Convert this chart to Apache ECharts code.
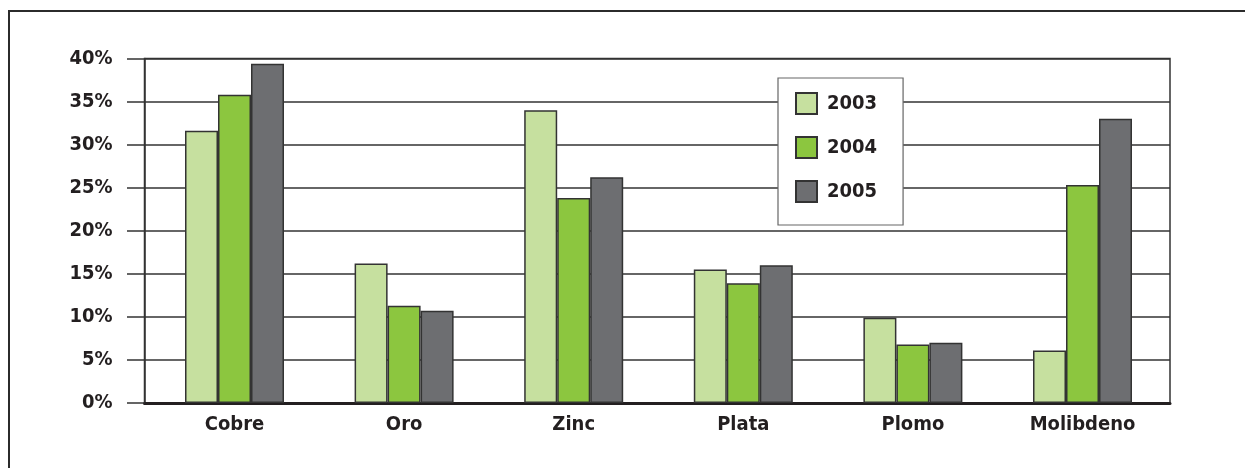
<!DOCTYPE html>
<html><head><meta charset="utf-8">
<script src="https://cdn.jsdelivr.net/npm/echarts@6/dist/echarts.min.js"></script>
<style>
html,body{margin:0;padding:0;background:#fff;}
#wrap{position:relative;width:1245px;height:468px;overflow:hidden;}
#frame{position:absolute;left:8px;top:10px;width:1250px;height:470px;border-top:2.5px solid #2b2b2b;border-left:2.5px solid #2b2b2b;}
#chart{position:absolute;left:0;top:0;width:1245px;height:468px;}
</style></head><body>
<div id="wrap"><div id="frame"></div><div id="chart"></div></div>
<script>
const categories = ['Cobre', 'Oro', 'Zinc', 'Plata', 'Plomo', 'Molibdeno'];
const years = ['2003', '2004', '2005'];
const values2003 = [31.6, 16.2, 34.0, 15.5, 9.9, 6.1];
const values2004 = [35.8, 11.3, 23.8, 13.9, 6.8, 25.3];
const values2005 = [39.4, 10.7, 26.2, 16.0, 7.0, 33.0];
const yTicks = [0, 5, 10, 15, 20, 25, 30, 35, 40];

const colors = ['#c6e09f', '#8cc63f', '#6d6e71'];
const FONT = '"Liberation Sans Narrow", "DejaVu Sans Condensed", "Arial Narrow", sans-serif';
const seriesValues = [values2003, values2004, values2005];

const chart = echarts.init(document.getElementById('chart'), null, {renderer: 'canvas'});
chart.setOption({
  animation: false,
  backgroundColor: 'transparent',
  grid: [
    {left: 144.5, right: 75, top: 58.5, bottom: 65, show: true, borderColor: '#333', borderWidth: 1.5, backgroundColor: 'transparent'},
    {left: 149.7, right: 77.7, top: 58.5, bottom: 65}
  ],
  xAxis: [
    {type: 'category', gridIndex: 0, data: categories,
     axisLabel: {show: false}, axisTick: {show: false},
     axisLine: {show: true, lineStyle: {color: '#231f20', width: 3}}},
    {type: 'category', gridIndex: 1, data: categories,
     axisLine: {show: false}, axisTick: {show: false},
     axisLabel: {margin: 12, fontSize: 20, fontWeight: 'bold', fontFamily: FONT, color: '#231f20'}}
  ],
  yAxis: [
    {type: 'value', gridIndex: 0, min: yTicks[0], max: yTicks[yTicks.length - 1], interval: yTicks[1] - yTicks[0],
     axisLine: {show: true, lineStyle: {color: '#333', width: 1.5}},
     axisTick: {show: true, inside: false, length: 17.5, lineStyle: {color: '#333', width: 1.5}},
     splitLine: {show: true, lineStyle: {color: '#333', width: 1.5}},
     axisLabel: {margin: 32, fontSize: 20, fontWeight: 'bold', fontFamily: FONT, color: '#231f20', formatter: '{value}%'}},
    {type: 'value', gridIndex: 1, min: yTicks[0], max: yTicks[yTicks.length - 1], interval: yTicks[1] - yTicks[0], show: false}
  ],
  legend: {
    data: years, orient: 'vertical', left: 778, top: 78, icon: 'rect',
    itemWidth: 21, itemHeight: 21, itemGap: 21,
    padding: [14, 26, 22, 17],
    backgroundColor: '#fff', borderColor: '#666', borderWidth: 1.2,
    textStyle: {fontSize: 20, fontWeight: 'bold', fontFamily: FONT, color: '#231f20', padding: [0, 0, 0, 5]}
  },
  series: years.map((y, i) => ({
    name: y, type: 'bar', xAxisIndex: 1, yAxisIndex: 1,
    data: seriesValues[i], barWidth: 33, barGap: '0%',
    itemStyle: {color: colors[i], borderColor: '#333', borderWidth: 1.5}
  }))
});
</script>
</body></html>
